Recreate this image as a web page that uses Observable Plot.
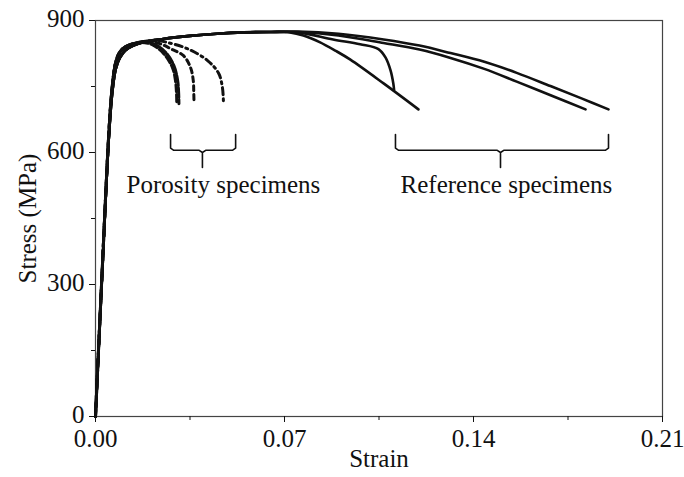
<!DOCTYPE html>
<html>
<head>
<meta charset="utf-8">
<script src="https://cdn.jsdelivr.net/npm/d3@7"></script>
<script src="https://cdn.jsdelivr.net/npm/@observablehq/plot@0.6"></script>
<style>
  html, body { margin: 0; padding: 0; background: #fff; }
  #chart svg { display: block; }
</style>
</head>
<body>
<div id="chart"></div>
<script>
// ---- Axis ticks ----
const xTicks = [0, 0.07, 0.14, 0.21];
const xMinorTicks = [0.035, 0.105, 0.175];
const yTicks = [0, 300, 600, 900];
const yMinorTicks = [150, 450, 750];

// ---- Reference specimens (solid) ----
const refRiseStrain = [0, 0.0025, 0.005, 0.0062, 0.0075, 0.009, 0.011, 0.014, 0.018, 0.025, 0.035, 0.045, 0.055, 0.065];
const refRiseStress = [0, 330, 640, 735, 790, 815, 832, 843, 851, 858, 865, 870, 873, 874];

const ref1Strain = [0.072, 0.077, 0.083, 0.089, 0.0944, 0.1067, 0.1196];
const ref1Stress = [873, 866, 851, 831, 811, 757, 698];

const ref2Strain = [0.075, 0.088, 0.098, 0.1048, 0.1074, 0.1093, 0.1103, 0.1106];
const ref2Stress = [873, 857, 846, 835, 816, 786, 757, 742];

const ref3Strain = [0.075, 0.09, 0.1067, 0.12, 0.1315, 0.144, 0.156, 0.169, 0.1815];
const ref3Stress = [874, 866, 849, 834, 815, 790, 761, 729, 698];

const ref4Strain = [0.075, 0.09, 0.1067, 0.12, 0.1315, 0.144, 0.156, 0.1685, 0.18, 0.19];
const ref4Stress = [875, 870, 857, 843, 826, 806, 781, 751, 723, 698];

// ---- Porosity specimens (dashed) ----
const porRiseStrain = [0, 0.0025, 0.005, 0.0062, 0.0075, 0.009, 0.011, 0.014];
const porRiseStress = [0, 335, 650, 750, 805, 828, 840, 847];

const por1Strain = [0.017, 0.021, 0.0252, 0.0285, 0.0296, 0.03, 0.0301];
const por1Stress = [850, 845, 825, 793, 764, 735, 711];

const por2Strain = [0.018, 0.022, 0.0262, 0.029, 0.0304, 0.0308, 0.0309];
const por2Stress = [852, 846, 826, 798, 765, 735, 711];

const por3Strain = [0.02, 0.024, 0.0278, 0.0326, 0.0352, 0.0362, 0.0364, 0.0365];
const por3Stress = [852, 847, 836, 820, 793, 764, 735, 711];

const por4Strain = [0.022, 0.0266, 0.034, 0.0415, 0.0456, 0.047, 0.0474];
const por4Stress = [855, 850, 836, 809, 780, 748, 711];

// ---- Annotations ----
const labelTexts = ["Porosity specimens", "Reference specimens"];
const labelStrain = [0.0474, 0.1522];
const labelStress = [527, 527];
// brace: left end, centre, right end strain; top / bottom / stem stress
const braceLeft = [0.0278, 0.1111];
const braceCenter = [0.0396, 0.1500];
const braceRight = [0.0519, 0.1900];
const braceTop = 641;
const braceBottom = 605;
const braceStem = 566;

// ---- build tables ----
function curve(id, sx, sy, riseX, riseY) {
  const pts = [];
  riseX.forEach((x, i) => pts.push({id, strain: x, stress: riseY[i]}));
  sx.forEach((x, i) => pts.push({id, strain: x, stress: sy[i]}));
  return pts;
}
const refCurves = [
  curve("r1", ref1Strain, ref1Stress, refRiseStrain, refRiseStress),
  curve("r2", ref2Strain, ref2Stress, refRiseStrain, refRiseStress),
  curve("r3", ref3Strain, ref3Stress, refRiseStrain, refRiseStress),
  curve("r4", ref4Strain, ref4Stress, refRiseStrain, refRiseStress)
];
const porCurves = [
  {data: curve("p1", por1Strain, por1Stress, porRiseStrain, porRiseStress), dash: "7,3"},
  {data: curve("p2", por2Strain, por2Stress, porRiseStrain, porRiseStress), dash: "10,2"},
  {data: curve("p3", por3Strain, por3Stress, porRiseStrain, porRiseStress), dash: "5,4"},
  {data: curve("p4", por4Strain, por4Stress, porRiseStrain, porRiseStress), dash: "7,4,2,4"}
];

function brace(i) {
  const l = braceLeft[i], c = braceCenter[i], r = braceRight[i];
  const rad = 0.0012, ry = 5;
  return [
    {strain: l, stress: braceTop},
    {strain: l, stress: braceBottom + ry},
    {strain: l + rad, stress: braceBottom},
    {strain: c - rad, stress: braceBottom},
    {strain: c, stress: braceBottom - ry},
    {strain: c, stress: braceStem},
    {strain: c, stress: braceBottom - ry},
    {strain: c + rad, stress: braceBottom},
    {strain: r - rad, stress: braceBottom},
    {strain: r, stress: braceBottom + ry},
    {strain: r, stress: braceTop}
  ];
}

const font = "'Liberation Serif', 'Times New Roman', serif";
const fs = 25;

const marks = [
  Plot.frame({stroke: "#444", strokeWidth: 1.2}),
  Plot.axisX({ticks: xTicks, tickSize: 6, tickPadding: 7, tickFormat: d => d.toFixed(2), label: null, fontSize: fs}),
  Plot.axisX({ticks: xMinorTicks, tickSize: 4, tickFormat: () => "", label: null}),
  // y ticks (marks only) and their labels drawn through the y scale
  Plot.axisY({ticks: yTicks, tickSize: 6, tickFormat: () => "", label: null}),
  Plot.axisY({ticks: yMinorTicks, tickSize: 4, tickFormat: () => "", label: null}),
  Plot.text(yTicks, {y: d => d, text: d => String(d), frameAnchor: "left", textAnchor: "end", dx: -11, dy: -2, fontSize: fs, fill: "#111"}),
  Plot.text(["Strain"], {frameAnchor: "bottom", dy: 50, fontSize: fs, fill: "#111"}),
  Plot.text(["Stress (MPa)"], {frameAnchor: "left", textAnchor: "middle", rotate: -90, dx: -68, fontSize: fs, fill: "#111"})
];
porCurves.forEach(p => marks.push(
  Plot.line(p.data, {x: "strain", y: "stress", stroke: "#111", strokeWidth: 3, strokeDasharray: p.dash, curve: "catmull-rom"})
));
refCurves.forEach(r => marks.push(
  Plot.line(r, {x: "strain", y: "stress", stroke: "#111", strokeWidth: 2.6, curve: "catmull-rom"})
));
[0, 1].forEach(i => marks.push(
  Plot.line(brace(i), {x: "strain", y: "stress", stroke: "#111", strokeWidth: 1.6, curve: "linear"})
));
marks.push(Plot.text(labelTexts, {x: (d, i) => labelStrain[i], y: (d, i) => labelStress[i], fontSize: fs, fill: "#111"}));

const chart = Plot.plot({
  width: 684,
  height: 477,
  marginLeft: 95,
  marginRight: 22,
  marginTop: 20,
  marginBottom: 61,
  style: {fontFamily: font, fontSize: fs + "px", color: "#111", background: "#fff"},
  x: {domain: [0, 0.21]},
  y: {domain: [0, 900]},
  marks
});
document.getElementById("chart").appendChild(chart);
</script>
</body>
</html>
